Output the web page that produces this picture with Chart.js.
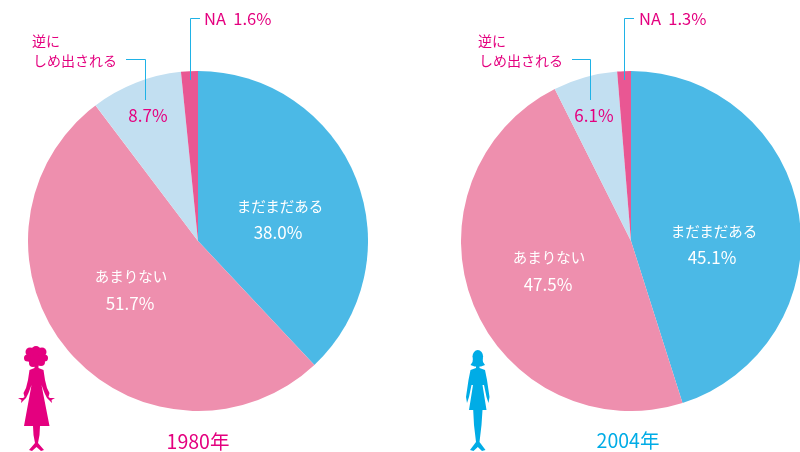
<!DOCTYPE html>
<html lang="ja"><head><meta charset="utf-8">
<style>
html,body{margin:0;padding:0;background:#fff;width:800px;height:452px;overflow:hidden}
body{position:relative;font-family:"Noto Sans CJK JP",sans-serif;font-weight:400}
.pie{position:absolute;top:71px;width:340px;height:340px}
.t{position:absolute;white-space:pre;line-height:1;transform:translateY(-50%)}
.c{transform:translate(-50%,-50%)}
svg{position:absolute;left:0;top:0}
</style>
<script src="https://cdn.jsdelivr.net/npm/chart.js@4"></script>
</head><body>
<div class="pie" style="left:28px"><canvas id="a" width="340" height="340"></canvas></div>
<div class="pie" style="left:461px"><canvas id="b" width="340" height="340"></canvas></div>
<svg width="800" height="452" viewBox="0 0 800 452">
<g fill="none" stroke="#1fb2e6" stroke-width="1">
<path d="M126 59.5H145.500V100M200 18.500H190.500V80"/>
<path d="M572 59.5H590.500V100M634 18.500H624.500V80"/>
</g>
<g fill="#e4007f">
<circle cx="36" cy="357" r="9"/><circle cx="30" cy="352" r="4.500"/><circle cx="36" cy="350.500" r="4.500"/>
<circle cx="42" cy="352" r="4.500"/><circle cx="44.500" cy="358" r="3.500"/><circle cx="41" cy="362" r="4"/>
<circle cx="33" cy="363" r="4"/><circle cx="27.500" cy="358" r="3.500"/>
<polygon points="34.500,365 38.500,365 38.500,368 43.500,370 45,380 47,388 49.500,393 48.500,397 50,398 55,398 51.500,400 52,403 49.500,400.500 47,398 44.500,393 41.500,385 49.500,426 40,426 39.500,435 38,443 44,450 41,451 36.500,447 32,451 29,450 35,443 33.500,435 33,426 24,426 31.500,385 28.500,393 26,398 23.500,400.500 21,403 21.500,400 18,398 23,398 24.500,397 23.500,393 26,388 28,380 29.500,370 34.500,368"/>
</g>
<g fill="#00ace6">
<ellipse cx="477.800" cy="356.500" rx="5.300" ry="6.500"/>
<polygon points="473,358 482.500,358 483,362 485,365 481,366.500 474.500,366.500 470.500,365 472.500,362"/>
<polygon points="476,365 479.500,365 479.500,368 485,370 487,380 489.500,397 488.500,403 486.500,397 484,385 482.500,385 486.500,410 482.500,410 481.500,425 479.500,442 485.500,450 482,451 477.800,447 473.500,451 470,450 476,442 474,425 473.200,410 469,410 473,385 471.500,385 469,397 467,403 466,397 468.500,380 470.500,370 476,368"/>
</g>
</svg>
<script>
const categories = ["まだまだある", "あまりない", "逆に\nしめ出される", "NA"];
const values1980 = [38.0, 51.7, 8.7, 1.6];
const values2004 = [45.1, 47.5, 6.1, 1.3];
const years = ["1980年", "2004年"];
const sliceColors = ["#4bb9e6", "#ee8fae", "#c2dff1", "#e95793"];

function pie(id, data) {
  new Chart(document.getElementById(id), {
    type: "pie",
    data: { labels: categories, datasets: [{ data, backgroundColor: sliceColors, borderWidth: 0 }] },
    options: {
      responsive: false, animation: false,
      layout: { padding: 0 },
      plugins: { legend: { display: false }, tooltip: { enabled: false } }
    }
  });
}
pie("a", values1980);
pie("b", values2004);

function text(s, x, y, size, color, center) {
  const d = document.createElement("div");
  d.className = center ? "t c" : "t";
  d.textContent = s;
  d.style.cssText = `left:${x}px;top:${y}px;font-size:${size}px;color:${color}`;
  document.body.appendChild(d);
}
const pct = v => v.toFixed(1) + "%";
const M = "#e4007f", W = "#ffffff", C = "#00ace6";
const [line1, line2] = categories[2].split("\n");

text(categories[0], 280, 206, 14.500, W, true);
text(pct(values1980[0]), 278, 231, 17, W, true);
text(categories[1], 131, 276, 14.500, W, true);
text(pct(values1980[1]), 130, 302, 17, W, true);
text(pct(values1980[2]), 148, 114, 17, M, true);
text(line1, 32, 40, 14, M);
text(line2, 33, 60, 14, M);
text(categories[3] + "  " + pct(values1980[3]), 204, 18, 16.500, M);
text(years[0], 198, 441, 19.500, M, true);

text(categories[0], 714, 231, 14.500, W, true);
text(pct(values2004[0]), 712, 256, 17, W, true);
text(categories[1], 549, 257, 14.500, W, true);
text(pct(values2004[1]), 548, 283, 17, W, true);
text(pct(values2004[2]), 594, 114, 17, M, true);
text(line1, 478, 40, 14, M);
text(line2, 479, 60, 14, M);
text(categories[3] + "  " + pct(values2004[3]), 639, 18, 16.500, M);
text(years[1], 628, 440, 19.500, C, true);
</script>
</body></html>
